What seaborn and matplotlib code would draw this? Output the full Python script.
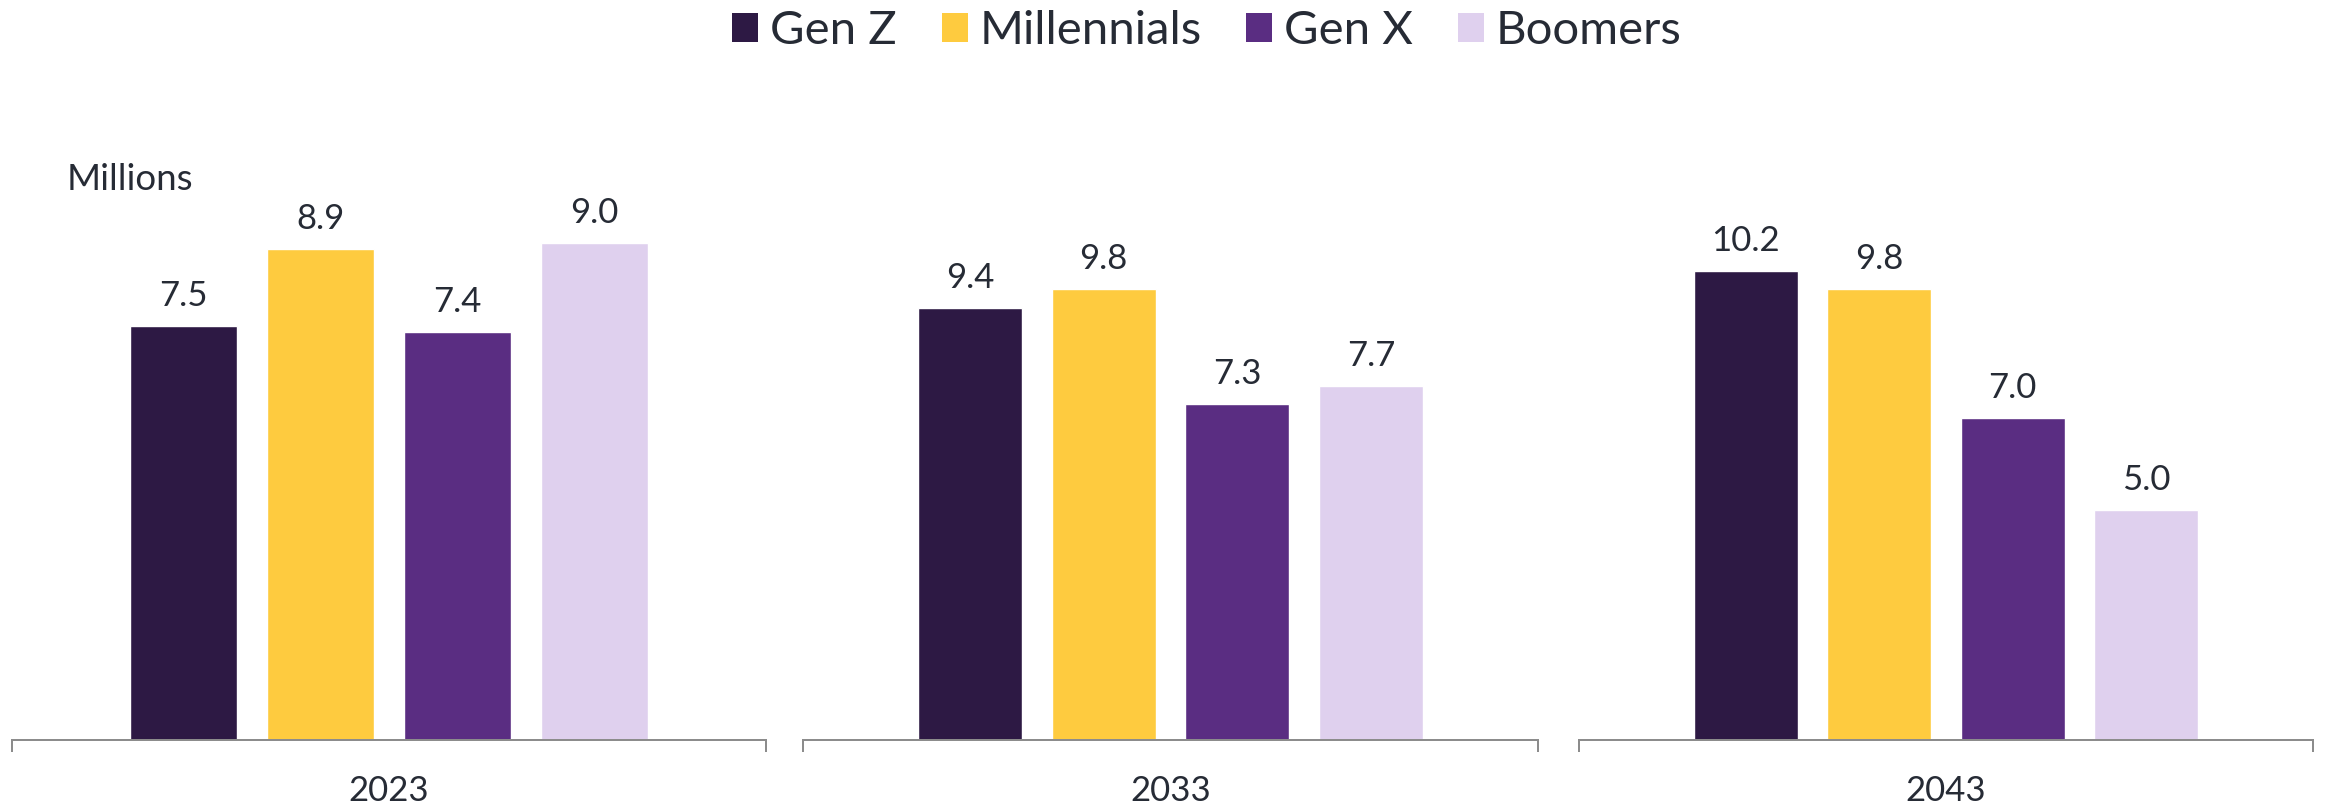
import matplotlib
matplotlib.use("Agg")
import matplotlib.pyplot as plt
from matplotlib.patches import Patch
import seaborn as sns
import pandas as pd

# ---- data ----
years = ["2023", "2033", "2043"]
generations = ["Gen Z", "Millennials", "Gen X", "Boomers"]
gen_z = [7.5, 9.4, 10.2]
millennials = [8.9, 9.8, 9.8]
gen_x = [7.4, 7.3, 7.0]
boomers = [9.0, 7.7, 5.0]
panel_ymax = [10, 12, 12]
colors = ["#2d1944", "#fecb3f", "#5a2d82", "#dfd0ee"]

rows = []
for i, y in enumerate(years):
    for g, series in zip(generations, [gen_z, millennials, gen_x, boomers]):
        rows.append({"year": y, "generation": g, "value": series[i]})
df = pd.DataFrame(rows)

sns.set_style("white")
plt.rcParams["font.family"] = ["Lato", "DejaVu Sans"]
TEXT = "#262b35"
AXC = "#8c8c8c"

W, H = 2328, 805
fig = plt.figure(figsize=(W / 100, H / 100), dpi=100)
palette = dict(zip(generations, colors))

panels_px = [(12, 766), (803, 1538), (1579, 2313)]
bottom_px, top_px = 740, 188
px2pt = 0.72

for i, (year, (l, r)) in enumerate(zip(years, panels_px)):
    ax = fig.add_axes([l / W, (H - bottom_px) / H, (r - l) / W, (bottom_px - top_px) / H])
    sub = df[df["year"] == year]
    sns.barplot(data=sub, x="generation", y="value", hue="generation",
                order=generations, hue_order=generations, palette=palette,
                width=0.78, saturation=1, errorbar=None, legend=False, ax=ax)
    ax.set_xlim(-1.25, 4.25)
    ax.set_ylim(0, panel_ymax[i])
    for s in ["left", "right", "top"]:
        ax.spines[s].set_visible(False)
    ax.spines["bottom"].set_color(AXC)
    ax.spines["bottom"].set_linewidth(2 * px2pt)
    ax.set_yticks([])
    ax.set_xticks([-1.25, 4.25])
    ax.set_xticklabels(["", ""])
    ax.tick_params(axis="x", bottom=True, length=12 * px2pt, width=2 * px2pt, color=AXC,
                   direction="out")
    ax.set_xlabel("")
    ax.set_ylabel("")
    for j, g in enumerate(generations):
        v = sub[sub["generation"] == g]["value"].iloc[0]
        ax.annotate(f"{v:.1f}", xy=(j, v), xytext=(0, 20 * px2pt), textcoords="offset points",
                    ha="center", va="baseline", fontsize=25, color=TEXT)
    ax.annotate(year, xy=(0.5, 0), xycoords="axes fraction", xytext=(0, -61 * px2pt),
                textcoords="offset points", ha="center", va="baseline", fontsize=25, color=TEXT)

fig.text(67 / W, 1 - 190 / H, "Millions", ha="left", va="baseline", fontsize=26.5, color=TEXT)

handles = [Patch(facecolor=c, edgecolor="none", label=g) for g, c in zip(generations, colors)]
fig.legend(handles=handles, loc="center", bbox_to_anchor=(1207 / W, 1 - 31 / H), ncol=4,
           frameon=False, fontsize=34, handlelength=0.55, handleheight=0.55,
           handletextpad=0.25, columnspacing=0.95, borderpad=0, labelcolor=TEXT)

fig.savefig("out.png", dpi=100)
